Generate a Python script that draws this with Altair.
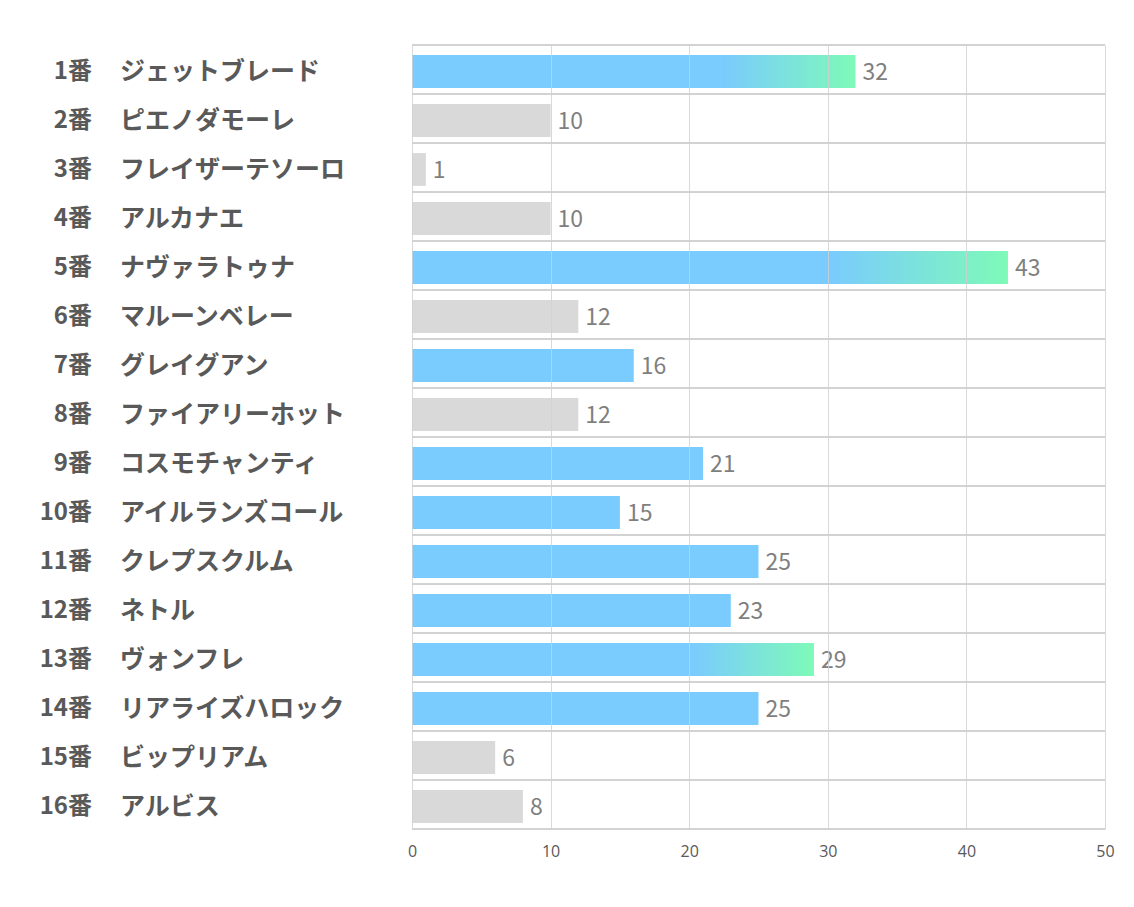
import altair as alt
import pandas as pd

numbers = ["1番", "2番", "3番", "4番", "5番", "6番", "7番", "8番",
           "9番", "10番", "11番", "12番", "13番", "14番", "15番", "16番"]
names = ["ジェットブレード", "ピエノダモーレ", "フレイザーテソーロ", "アルカナエ",
         "ナヴァラトゥナ", "マルーンベレー", "グレイグアン", "ファイアリーホット",
         "コスモチャンティ", "アイルランズコール", "クレプスクルム", "ネトル",
         "ヴォンフレ", "リアライズハロック", "ビップリアム", "アルビス"]
values = [32, 10, 1, 10, 43, 12, 16, 12, 21, 15, 25, 23, 29, 25, 6, 8]
kinds = ["top", "grey", "grey", "grey", "top", "grey", "blue", "grey",
         "blue", "blue", "blue", "blue", "top", "blue", "grey", "grey"]
x_ticks = [0, 10, 20, 30, 40, 50]
row_edges = list(range(17))

BLUE = "#7ACBFE"
GREEN = "#7EFAB8"
GREY = "#D9D9D9"
TEXT = "#595959"
VAL = "#7F7F7F"
FONT = "Noto Sans CJK JP"

df = pd.DataFrame({"num": numbers, "name": names, "value": values, "kind": kinds})
edges = pd.DataFrame({"b": row_edges})

W, H = 693, 784

yenc = alt.Y("num:N", sort=numbers, axis=None,
             scale=alt.Scale(paddingInner=0.33, paddingOuter=0.165))
xscale = alt.Scale(domain=[0, 50], nice=False, zero=True)

base = alt.Chart(df)

xaxis = alt.Axis(values=x_ticks, grid=True, gridColor="#CFCFCF", gridWidth=1,
                 gridOpacity=0.8,
                 domain=False, ticks=False, labelFont="Open Sans",
                 labelFontSize=16, labelColor=TEXT, labelPadding=14,
                 labelFlush=False, title=None, zindex=1)

flat = base.transform_filter("datum.kind != 'top'").mark_bar(yOffset=2).encode(
    x=alt.X("value:Q", scale=xscale, axis=xaxis),
    y=yenc,
    color=alt.Color("kind:N", scale=alt.Scale(domain=["blue", "grey"], range=[BLUE, GREY]),
                    legend=None),
)

grad = base.transform_filter("datum.kind == 'top'").mark_bar(
    yOffset=2,
    color=alt.Gradient(
        gradient="linear",
        stops=[alt.GradientStop(color=BLUE, offset=0),
               alt.GradientStop(color=BLUE, offset=0.7),
               alt.GradientStop(color=GREEN, offset=1)],
        x1=0, x2=1, y1=0, y2=0,
    )
).encode(x=alt.X("value:Q", scale=xscale), y=yenc)

vals = base.mark_text(align="left", baseline="middle", dx=7, dy=3, font=FONT,
                      fontSize=23, color=VAL).encode(
    x=alt.X("value:Q", scale=xscale), y=yenc, text=alt.Text("value:Q"))

nums = base.mark_text(align="right", baseline="middle", dy=2, font=FONT, fontSize=24,
                      fontWeight="bold", color=TEXT).encode(
    x=alt.value(-320), y=yenc, text="num:N")

nms = base.mark_text(align="left", baseline="middle", dy=2, font=FONT, fontSize=25,
                     fontWeight="bold", color=TEXT).encode(
    x=alt.value(-292), y=yenc, text="name:N")

main = alt.layer(flat, grad, vals, nums, nms)

lines = alt.Chart(edges).mark_rule(color="#A6A6A6", strokeWidth=1).encode(
    y=alt.Y("b:Q", scale=alt.Scale(domain=[0, 16], nice=False, zero=False), axis=None),
    x=alt.value(0), x2=alt.value(W),
)

chart = alt.layer(lines, main).resolve_scale(y="independent").properties(
    width=W, height=H,
    autosize=alt.AutoSizeParams(type="none"),
    padding={"left": 412, "top": 45, "right": 29, "bottom": 78},
    background="white",
).configure_view(stroke=None)

chart.save("out.html", embed_options={"renderer": "svg", "actions": False})
